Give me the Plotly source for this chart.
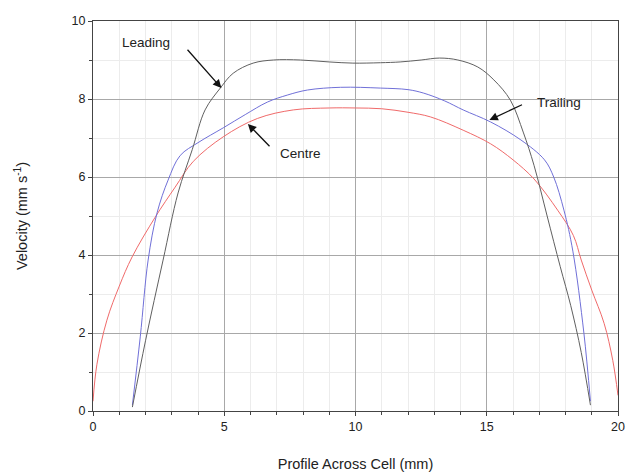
import plotly.graph_objects as go

# Leading edge profile
lead_x = [1.5, 2.0, 2.67, 3.24, 3.78, 4.27, 4.85, 5.34, 6.1, 6.87, 7.9, 9.0, 9.9, 10.95,
          11.7, 12.5, 13.2, 13.9, 14.66, 15.27, 15.9, 16.4, 16.8, 17.3, 17.8, 18.2, 18.6, 18.95]
lead_y = [0.1, 1.8, 3.87, 5.59, 6.7, 7.72, 8.28, 8.66, 8.92, 9.0, 9.0, 8.95, 8.92, 8.93,
          8.95, 9.0, 9.05, 9.0, 8.82, 8.49, 7.97, 7.13, 6.3, 5.0, 3.7, 2.7, 1.5, 0.15]

# Trailing edge profile
trail_x = [1.5, 1.8, 2.1, 2.44, 2.86, 3.32, 4.0, 4.96, 5.8, 6.64, 7.4, 8.17, 9.43, 10.95,
           12.0, 12.6, 13.4, 14.1, 15.15, 16.3, 17.2, 17.55, 17.94, 18.28, 18.7, 18.95]
trail_y = [0.15, 1.9, 3.87, 5.08, 5.92, 6.55, 6.88, 7.26, 7.6, 7.92, 8.1, 8.23, 8.3, 8.28,
           8.24, 8.15, 7.95, 7.72, 7.41, 6.95, 6.44, 6.0, 5.15, 4.1, 2.0, 0.25]

# Centre profile
centre_x = [0, 0.15, 0.53, 1.0, 1.49, 2.37, 3.13, 3.82, 4.96, 6.26, 7.63, 9.0, 10.0, 11.0,
            12.0, 12.86, 14.1, 15.15, 16.0, 16.8, 17.7, 18.3, 18.6, 19.0, 19.47, 19.8, 20.0]
centre_y = [0.25, 1.2, 2.33, 3.2, 3.95, 4.97, 5.74, 6.4, 7.03, 7.5, 7.72, 7.77, 7.77, 7.75,
            7.66, 7.54, 7.2, 6.85, 6.44, 5.95, 5.15, 4.5, 3.87, 3.1, 2.25, 1.3, 0.4]

x_ticks = [0, 5, 10, 15, 20]
y_ticks = [0, 2, 4, 6, 8, 10]

FONT = "Liberation Sans, Arial, sans-serif"

fig = go.Figure()
fig.add_trace(go.Scatter(x=centre_x, y=centre_y, mode="lines", name="Centre",
                         line=dict(color="#f06a6a", width=1, shape="spline", smoothing=1.0)))
fig.add_trace(go.Scatter(x=trail_x, y=trail_y, mode="lines", name="Trailing",
                         line=dict(color="#7070d8", width=1, shape="spline", smoothing=1.0)))
fig.add_trace(go.Scatter(x=lead_x, y=lead_y, mode="lines", name="Leading",
                         line=dict(color="#606060", width=1, shape="spline", smoothing=1.0)))

arrow_common = dict(xref="x", yref="y", axref="x", ayref="y", text="", showarrow=True,
                    arrowhead=2, arrowsize=1.3, arrowwidth=1.3, arrowcolor="#111",
                    standoff=0, startstandoff=0)
fig.add_annotation(x=4.89, y=8.28, ax=3.55, ay=9.3, **arrow_common)
fig.add_annotation(x=5.9, y=7.36, ax=6.78, ay=6.75, **arrow_common)
fig.add_annotation(x=15.1, y=7.46, ax=16.4, ay=7.87, **arrow_common)

text_common = dict(xref="x", yref="y", showarrow=False,
                   font=dict(family=FONT, size=13.5, color="#222"))
fig.add_annotation(x=2.03, y=9.44, text="Leading", **text_common)
fig.add_annotation(x=7.9, y=6.6, text="Centre", **text_common)
fig.add_annotation(x=17.75, y=7.9, text="Trailing", **text_common)

axis_common = dict(showline=True, linecolor="#444", linewidth=1.3, mirror=True,
                   ticks="outside", ticklen=4, tickcolor="#444", automargin=False,
                   showgrid=True, gridcolor="#a8a8a8", gridwidth=1, zeroline=False,
                   tickfont=dict(family=FONT, size=12.5, color="#222"))

fig.update_xaxes(range=[0, 20], tickvals=x_ticks, ticktext=[str(v) for v in x_ticks],
                 title=dict(text="Profile Across Cell (mm)", font=dict(family=FONT, size=14.5, color="#222"),
                            standoff=25),
                 minor=dict(dtick=1, tick0=0, showgrid=True, gridcolor="#ececec",
                            ticks="outside", ticklen=3, tickcolor="#444"),
                 **axis_common)
fig.update_yaxes(range=[0, 10], tickvals=y_ticks, ticktext=[str(v) for v in y_ticks],
                 title=dict(text="Velocity (mm s<sup>-1</sup>)", font=dict(family=FONT, size=14.5, color="#222"),
                            standoff=40),
                 minor=dict(dtick=1, tick0=0, showgrid=True, gridcolor="#ececec",
                            ticks="outside", ticklen=3, tickcolor="#444"),
                 **axis_common)

fig.update_layout(width=628, height=473, showlegend=False,
                  margin=dict(l=93, r=10, t=21, b=62),
                  plot_bgcolor="white", paper_bgcolor="white",
                  font=dict(family=FONT))

fig.write_html("out.html", config={"displayModeBar": False},
               post_script="document.body.style.margin='0';document.body.style.overflow='hidden';")
